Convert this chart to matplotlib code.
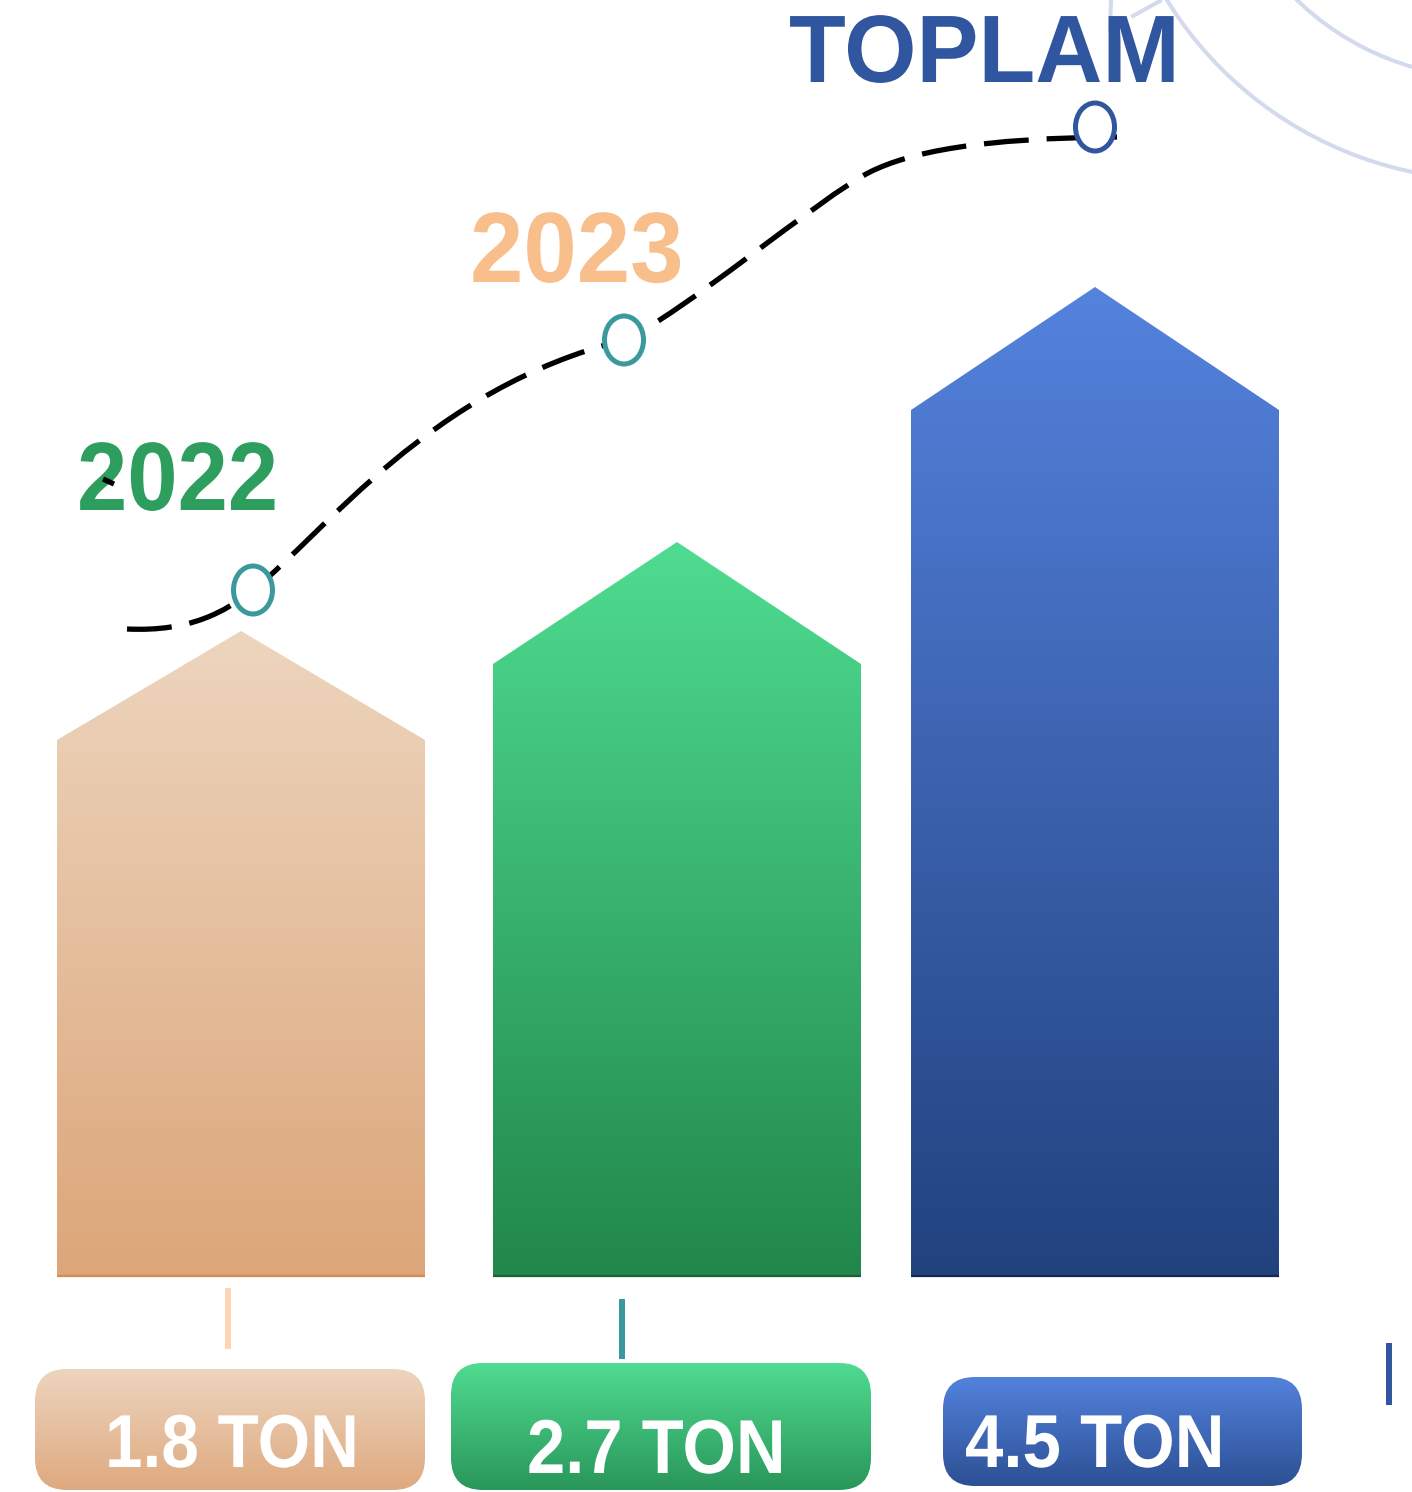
import numpy as np
import matplotlib
matplotlib.use('Agg')
import matplotlib.pyplot as plt
from matplotlib.patches import Polygon, FancyBboxPatch, Ellipse, Arc, PathPatch
from matplotlib.path import Path
from matplotlib.colors import LinearSegmentedColormap
from matplotlib.transforms import Affine2D
from matplotlib import patheffects

# data
years = ['2022', '2023', 'TOPLAM']
tons = [1.8, 2.7, 4.5]
ton_labels = ['%.1f TON' % t for t in tons]
bar_peak = [646, 735, 990]        # drawn height of the arrow tip
bar_shoulder = [537, 613, 867]    # drawn height of the arrow shoulders
trend_y = [687, 937, 1150]        # heights of the circle markers

top_colors = ['#EDD5BE', '#4FDC91', '#5482DD']
bottom_colors = ['#DCA679', '#21874B', '#22427F']
base_colors = ['#D68A4E', '#1C5F36', '#16264F']
year_colors = ['#2E9E5E', '#F8BF8D', '#2F569E']
marker_colors = ['#3A999C', '#3A999C', '#2F569E']
tick_colors = ['#FDD5B5', '#3A999C', '#2F569E']
box_top = ['#EDD5BE', '#4FDC91', '#5382DC']
box_bottom = ['#DEA97F', '#2A965A', '#2C5094']

# layout (pixel-like units, baseline of bars at 0)
W, H = 1412, 1492
BASE = 1277
bar_cx = [241, 677, 1095]
bar_w = 368
marker_x = [253, 624, 1095]
year_pos = [(77, 767), (470, 995), (789, 1195)]
year_size = [70, 72, 69]
year_sx = [0.93, 0.96, 0.97]
box_ext = [(35, -213, 390, 121), (451, -213, 420, 127), (943, -209, 359, 109)]
box_text = [(105, -190), (527, -196), (965, -190)]
box_size = [54, 55, 54]
box_sx = [0.90, 0.90, 0.92]
tick_pos = [(228, -11, -72), (622, -22, -82), (1389, -66, -128)]

font = ['Liberation Sans', 'DejaVu Sans']


class Squeeze(patheffects.AbstractPathEffect):
    # narrows the glyphs horizontally around the text origin
    def __init__(self, sx):
        super().__init__()
        self.sx = sx

    def draw_path(self, renderer, gc, tpath, affine, rgbFace=None):
        renderer.draw_path(gc, tpath, Affine2D().scale(self.sx, 1) + affine, rgbFace)


fig = plt.figure(figsize=(W / 100, H / 100), dpi=100)
ax = fig.add_axes([0, 0, 1, 1])


def gradient(patch, top, bottom, extent, z):
    cmap = LinearSegmentedColormap.from_list('g', [bottom, top])
    img = ax.imshow(np.linspace(0, 1, 256).reshape(-1, 1), cmap=cmap,
                    extent=extent, origin='lower', aspect='auto',
                    interpolation='bicubic', zorder=z)
    img.set_clip_path(patch)


# background arcs
arc_c = (1490, BASE + 200)
ax.add_patch(Arc(arc_c, 760, 760, theta1=195, theta2=275, color='#D3DAEE', lw=2.9, zorder=0))
ax.add_patch(Arc(arc_c, 556, 556, theta1=195, theta2=290, color='#D3DAEE', lw=2.9, zorder=0))
ax.plot([1111, 1110], [BASE, BASE - 30], color='#D3DAEE', lw=2.9, zorder=0)
ax.plot([1133, 1160], [BASE - 16, BASE - 1], color='#D3DAEE', lw=2.9, zorder=0)

# arrow bars
for i in range(3):
    x0 = bar_cx[i] - bar_w / 2
    x1 = bar_cx[i] + bar_w / 2
    poly = Polygon([(x0, 0), (x1, 0), (x1, bar_shoulder[i]), (bar_cx[i], bar_peak[i]),
                    (x0, bar_shoulder[i])], closed=True, facecolor='none', edgecolor='none')
    ax.add_patch(poly)
    gradient(poly, top_colors[i], bottom_colors[i], (x0, x1, 0, bar_peak[i]), 2)
    ax.plot([x0, x1], [1, 1], color=base_colors[i], lw=1.6, zorder=3, solid_capstyle='butt')

# dashed trend curve
verts = [(127, 629), (190, 632), (225, 612), (253, 590),
         (325, 533), (430, 388), (624, 340),
         (680, 316), (820, 197), (870, 172),
         (910, 152), (980, 138), (1117, 137)]
verts = [(x, BASE - y) for x, y in verts]
codes = [Path.MOVETO] + [Path.CURVE4] * 12
ax.add_patch(PathPatch(Path(verts, codes), facecolor='none', edgecolor='black',
                       lw=3.8, linestyle=(0, (8.5, 3.4)), zorder=4))
ax.plot([103, 114], [BASE - 479, BASE - 484], color='black', lw=3.8, zorder=7,
        solid_capstyle='butt')

for i in range(3):
    ax.add_patch(Ellipse((marker_x[i], trend_y[i]), 39, 48, facecolor='white',
                         edgecolor=marker_colors[i], lw=3.6, zorder=5))

# year / total titles
for i in range(3):
    ax.text(year_pos[i][0], year_pos[i][1], years[i], color=year_colors[i],
            fontsize=year_size[i], fontweight='bold', family=font, ha='left',
            va='baseline', zorder=6, path_effects=[Squeeze(year_sx[i])])

# small vertical ticks
for i in range(3):
    x, ya, yb = tick_pos[i]
    ax.plot([x, x], [ya, yb], color=tick_colors[i], lw=4.3, solid_capstyle='butt', zorder=2)

# value boxes
for i in range(3):
    bx, by, bw, bh = box_ext[i]
    box = FancyBboxPatch((bx, by), bw, bh, boxstyle='round,pad=0,rounding_size=32',
                         facecolor='none', edgecolor='none')
    ax.add_patch(box)
    gradient(box, box_top[i], box_bottom[i], (bx, bx + bw, by, by + bh), 2)
    ax.text(box_text[i][0], box_text[i][1], ton_labels[i], color='white',
            fontsize=box_size[i], fontweight='bold', family=font, ha='left',
            va='baseline', zorder=6, path_effects=[Squeeze(box_sx[i])])

ax.set_xlim(0, W)
ax.set_ylim(BASE - H, BASE)
ax.axis('off')

plt.savefig('out.png', dpi=100, facecolor='white')
